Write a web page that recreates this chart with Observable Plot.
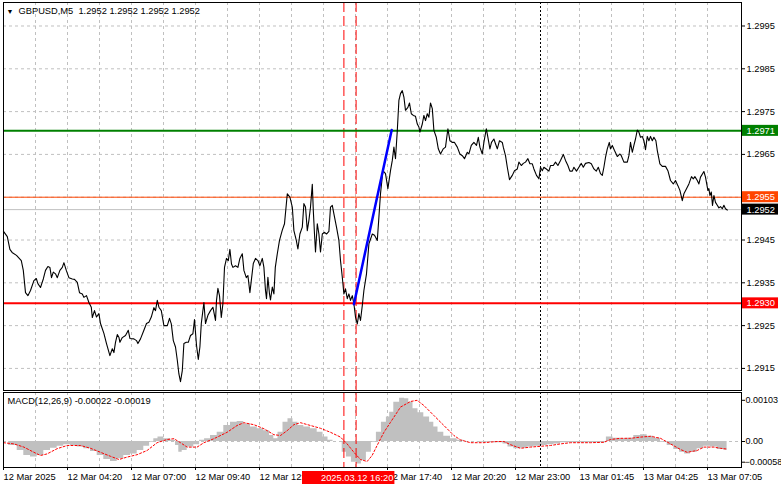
<!DOCTYPE html>
<html><head><meta charset="utf-8">
<script src="https://cdn.jsdelivr.net/npm/d3@7"></script>
<script src="https://cdn.jsdelivr.net/npm/@observablehq/plot@0.6"></script>
<style>
html,body{margin:0;padding:0;background:#fff;overflow:hidden}
#chart{position:relative;width:781px;height:489px;background:#fff}
#chart svg{position:absolute;left:0;max-width:none}
</style></head><body><div id="chart"></div>
<script>
// ---- price series (bar index, 5-minute bars; close) ----
const bars = [0,1.9,3.2,4.3,6.5,8.9,9.9,11,12.2,13.5,15.2,16.4,17.2,18.5,19.9,21,22.2,23.2,24,24.9,26,26.9,28.2,29.4,30.2,31.4,32.7,34.4,35.5,36.9,38,39.4,40.2,41.5,42.7,43.9,44.4,45.5,46.5,47.7,48.5,50.2,51.5,53.2,54.4,55.2,56,56.9,57.7,58.2,59.4,61,62.4,63.2,65.2,66.5,67.2,68.5,70.2,71.5,72.7,73.9,75.2,76,76.9,77.7,78.9,80.2,81.9,83,83.9,84.9,86,86.9,87.7,88.5,89.4,90.2,91.4,92.4,93.5,94.7,95.5,96.5,97.4,98.2,98.9,100.2,101,102.2,103.5,104.7,106,106.5,107.2,108,108.9,109.7,110.5,111.5,112.4,113.2,114,114.7,116,117.2,118.2,119.4,120.2,121.4,122.2,123.2,123.9,124.9,126,127.2,128.2,129.4,130.2,131,131.5,132.2,133,133.5,134.4,135.2,135.9,136.9,138,139.4,140.5,141.9,143.2,144.4,145.2,146.4,147.2,148.2,149.4,150.2,151,151.9,152.7,153.5,154.4,154.9,155.5,156,156.9,157.7,158.5,159.4,160.5,161.5,162.7,163.5,164.4,165.2,166.5,167.7,168.5,169.4,170.2,171,171.9,172.7,173.5,174.4,175.2,176,176.9,177.7,178.5,179.4,180.2,181.5,182.7,184.4,185.5,186.9,187.7,188.5,189.7,191,192.2,193.5,194.4,195.2,196,196.9,197.7,198.5,199.4,200.2,201,202.2,203,203.9,204.9,206,206.9,207.7,208.2,209.4,210.2,211,211.9,212.7,213.5,214.4,215.2,216.4,217.4,218.5,219.9,221,222.2,223.2,224.4,225.5,226.9,228.2,229.4,230.5,231.9,232.7,233.9,235.2,236.5,237.4,238.2,239.4,240.2,241.4,242.2,243.2,244,245.2,246,246.9,248,249.4,249.9,251,251.9,253,254.4,255.5,256.9,257.7,258.9,259.9,261,262.2,263.2,264.4,265.2,266.5,267.7,268.5,269.4,270.2,271.4,272.7,273.5,274.9,276,277.2,278.5,279.9,281,282.2,283.2,284.4,285.2,286.5,287.7,288.9,289.9,291,292.7,293.9,295.2,296.4,297.4,298.5,299.4,300.2,301,301.9,302.9,303.5,304.4,305.5,306.9,308.2,308.9,310.2,311.9,312.7,313.5,314.4,315.2,316,316.9,317.7,318.5,319.4,320.2,321,321.9,322.7,323.5,324.4,325.2,326.2,326.9,328.2,329.4,331,332.2,333.5,334.9,336,337.2,338.2,339.4,340.2,341.5,342.7,344,344.9,345.7,346.9,347.7,348.5,350.2,351,352.2,352.7,353.2,353.9,354.5,355.2,356,356.9,357.7,358.5,359.4,360.2,361,361.9];
const closes = [1.29470,1.29458,1.29428,1.29421,1.29414,1.29402,1.29379,1.29327,1.29320,1.29332,1.29355,1.29360,1.29348,1.29339,1.29359,1.29379,1.29388,1.29386,1.29362,1.29375,1.29371,1.29362,1.29379,1.29386,1.29397,1.29379,1.29362,1.29359,1.29358,1.29351,1.29327,1.29324,1.29316,1.29320,1.29304,1.29293,1.29269,1.29285,1.29270,1.29278,1.29255,1.29232,1.29208,1.29180,1.29196,1.29187,1.29211,1.29229,1.29223,1.29211,1.29222,1.29227,1.29239,1.29220,1.29219,1.29215,1.29208,1.29219,1.29239,1.29255,1.29258,1.29270,1.29292,1.29285,1.29309,1.29293,1.29285,1.29250,1.29250,1.29267,1.29254,1.29215,1.29200,1.29169,1.29137,1.29119,1.29145,1.29208,1.29211,1.29211,1.29227,1.29231,1.29264,1.29204,1.29171,1.29200,1.29255,1.29304,1.29255,1.29274,1.29285,1.29293,1.29262,1.29309,1.29337,1.29320,1.29269,1.29301,1.29386,1.29407,1.29402,1.29428,1.29394,1.29386,1.29390,1.29386,1.29407,1.29418,1.29379,1.29362,1.29367,1.29327,1.29355,1.29395,1.29407,1.29402,1.29390,1.29407,1.29386,1.29332,1.29313,1.29363,1.29324,1.29310,1.29340,1.29324,1.29386,1.29418,1.29449,1.29473,1.29488,1.29558,1.29550,1.29527,1.29472,1.29449,1.29429,1.29464,1.29480,1.29535,1.29527,1.29472,1.29496,1.29527,1.29580,1.29519,1.29464,1.29422,1.29488,1.29464,1.29422,1.29464,1.29468,1.29464,1.29470,1.29527,1.29531,1.29511,1.29480,1.29449,1.29402,1.29363,1.29324,1.29336,1.29313,1.29324,1.29309,1.29320,1.29301,1.29270,1.29254,1.29278,1.29262,1.29297,1.29332,1.29371,1.29441,1.29464,1.29461,1.29449,1.29503,1.29558,1.29612,1.29605,1.29570,1.29612,1.29636,1.29667,1.29640,1.29706,1.29776,1.29792,1.29799,1.29784,1.29753,1.29760,1.29770,1.29745,1.29741,1.29739,1.29721,1.29714,1.29702,1.29721,1.29741,1.29729,1.29745,1.29737,1.29770,1.29757,1.29706,1.29690,1.29663,1.29651,1.29663,1.29667,1.29710,1.29682,1.29678,1.29678,1.29667,1.29651,1.29647,1.29640,1.29655,1.29651,1.29671,1.29678,1.29671,1.29690,1.29667,1.29651,1.29678,1.29710,1.29690,1.29663,1.29678,1.29686,1.29675,1.29663,1.29682,1.29678,1.29667,1.29647,1.29620,1.29591,1.29601,1.29612,1.29616,1.29632,1.29624,1.29629,1.29632,1.29640,1.29628,1.29628,1.29616,1.29601,1.29593,1.29620,1.29612,1.29620,1.29616,1.29611,1.29624,1.29624,1.29632,1.29624,1.29636,1.29650,1.29636,1.29624,1.29611,1.29611,1.29620,1.29611,1.29620,1.29629,1.29620,1.29629,1.29631,1.29628,1.29616,1.29611,1.29620,1.29605,1.29601,1.29620,1.29643,1.29663,1.29678,1.29663,1.29671,1.29659,1.29645,1.29651,1.29647,1.29632,1.29632,1.29647,1.29678,1.29655,1.29671,1.29686,1.29707,1.29702,1.29690,1.29692,1.29682,1.29661,1.29692,1.29682,1.29692,1.29682,1.29690,1.29682,1.29659,1.29628,1.29622,1.29622,1.29612,1.29589,1.29581,1.29589,1.29577,1.29566,1.29542,1.29558,1.29570,1.29581,1.29598,1.29593,1.29598,1.29589,1.29581,1.29597,1.29610,1.29597,1.29566,1.29570,1.29554,1.29562,1.29531,1.29554,1.29538,1.29531,1.29525,1.29528,1.29523,1.29531,1.29523,1.29520];

// ---- blue trend segment ----
const trendBars = [175.2, 194.1];
const trendPrices = [1.2930, 1.29707];

// ---- horizontal levels ----
const levelPrices = [1.29705, 1.29550, 1.29521, 1.29302];
const levelLabels = ["1.2971", "1.2955", "1.2952", "1.2930"];
const levelColors = ["#008000", "#ff4500", "#000000", "#ff0000"];

// ---- MACD histogram ----
const histBars = [0,5.2,8.5,11.8,15.2,18.5,21.8,25.2,28.5,31.8,35.2,38.5,41.8,45.2,48.5,51.8,55.2,58.5,61.8,65.2,68.5,71.8,74.3,76,78.5,81.8,85.2,86.8,88.5,90.2,93.5,96.8,99.3,101.8,105.2,108.5,111.8,115.2,118.5,121.8,125.2,128.5,131.8,134.3,136,138.5,141,143.5,146,148.5,151.8,155.2,158.5,161,163.5,166,168.5,170.2,172.7,175.2,177.7,180.2,182.7,185.2,187.7,190.2,192.7,193.5,196.8,199.3,201.8,203.5,206,208.5,211.8,214.3,216,218.5,221.8,225.2,228.5,231.8,241.8,248.5,251,253.5,256.8,260.2,263.5,266.8,270.2,273.5,276.8,280.2,290.2,300.2,302.7,306.8,310.2,313.5,316.8,320.2,323.5,326.8,330.2,333.5,336.8,339.3,341.8,345.2,348.5,351.8,355.2,358.5,361.8];
const histValues = [0,-0.0001,-0.000225,-0.00035,-0.00039,-0.00035,-0.000225,-0.00017,-0.00012,-0.00008,-0.0001,-0.00014,-0.00018,-0.00025,-0.00035,-0.00045,-0.0005,-0.00043,-0.00035,-0.00031,-0.000225,-0.00012,-0.00002,0.00007,0.00011,0.00007,0.00003,-0.0001,-0.00027,-0.000225,-0.00014,-0.00008,0.00003,0.00007,0.00015,0.00023,0.0004,0.00048,0.0005,0.00044,0.00036,0.00032,0.00027,0.00015,0.00007,0.00023,0.00048,0.00057,0.00048,0.0004,0.00036,0.00032,0.00023,0.00011,0.00003,0,0,-0.00027,-0.00039,-0.00052,-0.00056,-0.00048,-0.00027,-0.00002,0.00023,0.00048,0.00061,0.00073,0.00098,0.00108,0.00107,0.00098,0.00082,0.00072,0.00061,0.00048,0.00036,0.00023,0.00013,0.00007,0.00003,0,-0.00002,-0.00003,-0.00006,-0.00014,-0.00018,-0.00017,-0.00014,-0.00012,-0.0001,-0.00008,-0.00006,-0.00003,-0.00003,-0.00003,0.00011,0.00008,0.00007,0.00008,0.00015,0.00017,0.00013,0.00008,-0.00002,-0.0001,-0.0002,-0.00027,-0.00031,-0.00027,-0.00018,-0.00012,-0.00014,-0.0002,-0.00022];

// ---- MACD signal ----
const sigBars = [0,5.2,10.2,15.2,18.5,21.8,26.8,31.8,38.5,43.5,48.5,53.5,57.7,61.8,66.8,71.8,76.8,81.8,85.2,88.5,91.8,96.8,100.2,105.2,111.8,116.8,120.2,125.2,130.2,135.2,138.5,141.8,145.2,148.5,153.5,158.5,163.5,168.5,171.8,175.2,178.5,181.8,184.3,186.8,190.2,193.5,198.5,203.5,206.8,210.2,215.2,220.2,225.2,228.5,233.5,240.2,246.8,250.2,253.5,258.5,263.5,268.5,273.5,278.5,283.5,293.5,300.2,303.5,308.5,313.5,318.5,323.5,328.5,333.5,338.5,341.8,346.8,350.2,355.2,358.5,361.8];
const sigValues = [-0.00003,-0.00006,-0.00014,-0.00027,-0.00035,-0.00031,-0.00018,-0.0001,-0.0001,-0.00017,-0.00027,-0.00037,-0.00045,-0.00039,-0.00033,-0.000225,-0.00003,0.00005,0.00007,-0.00003,-0.00014,-0.00014,-0.00003,0.00007,0.00023,0.0004,0.00047,0.00042,0.00032,0.00017,0.00015,0.00027,0.00042,0.00047,0.0004,0.00033,0.00023,0.00011,-0.00006,-0.00027,-0.00045,-0.0005,-0.00035,-0.0001,0.00023,0.00048,0.00086,0.001,0.00103,0.0009,0.00065,0.0004,0.00015,0.00004,-0.00003,-0.00003,0,0,-0.00008,-0.00017,-0.00014,-0.00012,-0.0001,-0.00006,-0.00003,-0.00003,-0.00002,0.00005,0.00008,0.00008,0.00011,0.00013,0.00008,-0.00006,-0.0002,-0.00027,-0.000225,-0.00014,-0.00014,-0.00017,-0.00019];

// ---- axes ----
const priceTicks = [1.2915, 1.2925, 1.2935, 1.2945, 1.2965, 1.2975, 1.2985, 1.2995];
const gridPrices = [1.2915, 1.2925, 1.2935, 1.2945, 1.2955, 1.2965, 1.2975, 1.2985, 1.2995];
const gridBars = [16,32,48,64,80,96,112,128,144,160,176,192,208,224,240,256,272,288,304,320,336,352];
const timeTickBars = [0,32,64,96,128,160,192,224,256,288,320,352];
const timeLabels = ["12 Mar 2025","12 Mar 04:20","12 Mar 07:00","12 Mar 09:40","12 Mar 12:20","","12 Mar 17:40","12 Mar 20:20","12 Mar 23:00","13 Mar 01:45","13 Mar 04:25","13 Mar 07:05"];
const macdTopTicks = [0.00103, 0];
const macdBottomTick = [-0.00058];
const eventBars = [170.2, 176.3];
const dayBreakBars = [268.5];
const cursorLabel = "2025.03.12 16:20";
const cursorFrom = 149.5, cursorTo = 195.7;
const headerText = "GBPUSD,M5\u00a0\u00a01.2952 1.2952 1.2952 1.2952";
const macdText = "MACD(12,26,9) -0.00022 -0.00019";

const xDomain = [0, 369];
const FONT = 'Tahoma, "DejaVu Sans", "Liberation Sans", sans-serif';
const FONT2 = '"Liberation Sans", Arial, sans-serif';
const style = {fontFamily: FONT2, fontSize: "9.3px", background: "transparent", overflow: "visible", color: "black"};

const price = bars.map((b, i) => ({bar: b, close: closes[i]}));
const trend = trendBars.map((b, i) => ({bar: b, p: trendPrices[i]}));
const hist = histBars.map((b, i) => ({bar: b, v: histValues[i]}));
const sig = sigBars.map((b, i) => ({bar: b, v: sigValues[i]}));
const levelIdx = levelPrices.map((_, i) => i);
const grey = "#c0c0c0";

const main = Plot.plot({
  width: 781, height: 392,
  marginLeft: 3, marginRight: 40, marginTop: 2, marginBottom: 2,
  style,
  color: {type: "identity"},
  x: {domain: xDomain, axis: null, label: null},
  y: {domain: [1.290984, 1.300049], axis: null, label: null},
  marks: [
    Plot.ruleY(gridPrices, {stroke: grey, strokeDasharray: "3,3"}),
    Plot.ruleX(gridBars, {stroke: grey, strokeDasharray: "3,3"}),
    Plot.ruleX(dayBreakBars, {stroke: "black", strokeDasharray: "2,2"}),
    Plot.ruleX(eventBars, {stroke: "#ff0000", strokeDasharray: "10,4"}),
    Plot.ruleY([levelPrices[2]], {stroke: grey}),
    Plot.ruleY([levelPrices[1]], {stroke: levelColors[1]}),
    Plot.ruleY([levelPrices[0]], {stroke: levelColors[0], strokeWidth: 2}),
    Plot.ruleY([levelPrices[3]], {stroke: levelColors[3], strokeWidth: 2}),
    Plot.line(price, {x: "bar", y: "close", stroke: "black", strokeWidth: 1.1}),
    Plot.line(trend, {x: "bar", y: "p", stroke: "#0000ff", strokeWidth: 2.5}),
    Plot.frame({stroke: "black"}),
    Plot.axisY(priceTicks, {anchor: "right", label: null, tickSize: 3, tickPadding: 2, tickFormat: d3.format(".4f")}),
    Plot.rect(levelIdx, {x1: () => xDomain[1], x2: () => xDomain[1], y1: i => levelPrices[i], y2: i => levelPrices[i],
      insetLeft: 1, insetRight: -37, insetTop: -5.5, insetBottom: -5.5, fill: i => levelColors[i]}),
    Plot.text(levelIdx, {x: () => xDomain[1], y: i => levelPrices[i], text: i => levelLabels[i], fill: "white", textAnchor: "start", dx: 5}),
    Plot.text(["\u25BC"], {frameAnchor: "top-left", dx: 6.5, dy: 9, fontSize: 7, textAnchor: "middle", lineAnchor: "middle"}),
    Plot.text([headerText], {frameAnchor: "top-left", dx: 15, dy: 5, textAnchor: "start", lineAnchor: "top"})
  ]
});
main.style.top = "0px";

const macd = Plot.plot({
  width: 781, height: 99,
  marginLeft: 3, marginRight: 40, marginTop: 2, marginBottom: 22,
  style,
  x: {domain: xDomain, axis: null, label: null},
  y: {domain: [-0.00065, 0.001225], axis: null, label: null},
  marks: [
    Plot.ruleX(gridBars, {stroke: grey, strokeDasharray: "3,3"}),
    Plot.ruleY([0], {stroke: grey, strokeDasharray: "3,3"}),
    Plot.areaY(hist, {x: "bar", y1: 0, y2: "v", fill: grey, curve: "step"}),
    Plot.line(sig, {x: "bar", y: "v", stroke: "#ff0000", strokeWidth: 1, strokeDasharray: "2,2"}),
    Plot.ruleX(dayBreakBars, {stroke: "black", strokeDasharray: "2,2"}),
    Plot.ruleX(eventBars, {stroke: "#ff0000", strokeDasharray: "10,4"}),
    Plot.frame({stroke: "black"}),
    Plot.axisY(macdTopTicks, {anchor: "right", label: null, tickSize: 3, tickPadding: 1, fontSize: 9,
      tickFormat: d => d === 0 ? "0.00" : d3.format(".5f")(d)}),
    Plot.axisY(macdBottomTick, {anchor: "right", label: null, tickSize: 3, tickPadding: 0, fontSize: 9, dy: -2.5,
      tickFormat: d3.format(".5f")}),
    Plot.axisX(timeTickBars, {anchor: "bottom", label: null, tickSize: 3, tickPadding: 3, textAnchor: "start",
      tickFormat: d => timeLabels[timeTickBars.indexOf(d)]}),
    Plot.rect([0], {x1: () => cursorFrom, x2: () => cursorTo, y1: () => -0.00065, y2: () => -0.00065,
      insetTop: 4, insetBottom: -17, fill: "#ff0000"}),
    Plot.text([cursorLabel], {x: () => cursorTo, y: () => -0.00065, dy: 10.5, dx: -1.5, textAnchor: "end", fill: "white"}),
    Plot.text([macdText], {frameAnchor: "top-left", dx: 4, dy: 5, textAnchor: "start", lineAnchor: "top"})
  ]
});
macd.style.top = "390px";

const chart = document.getElementById("chart");
chart.appendChild(main);
chart.appendChild(macd);
</script></body></html>
